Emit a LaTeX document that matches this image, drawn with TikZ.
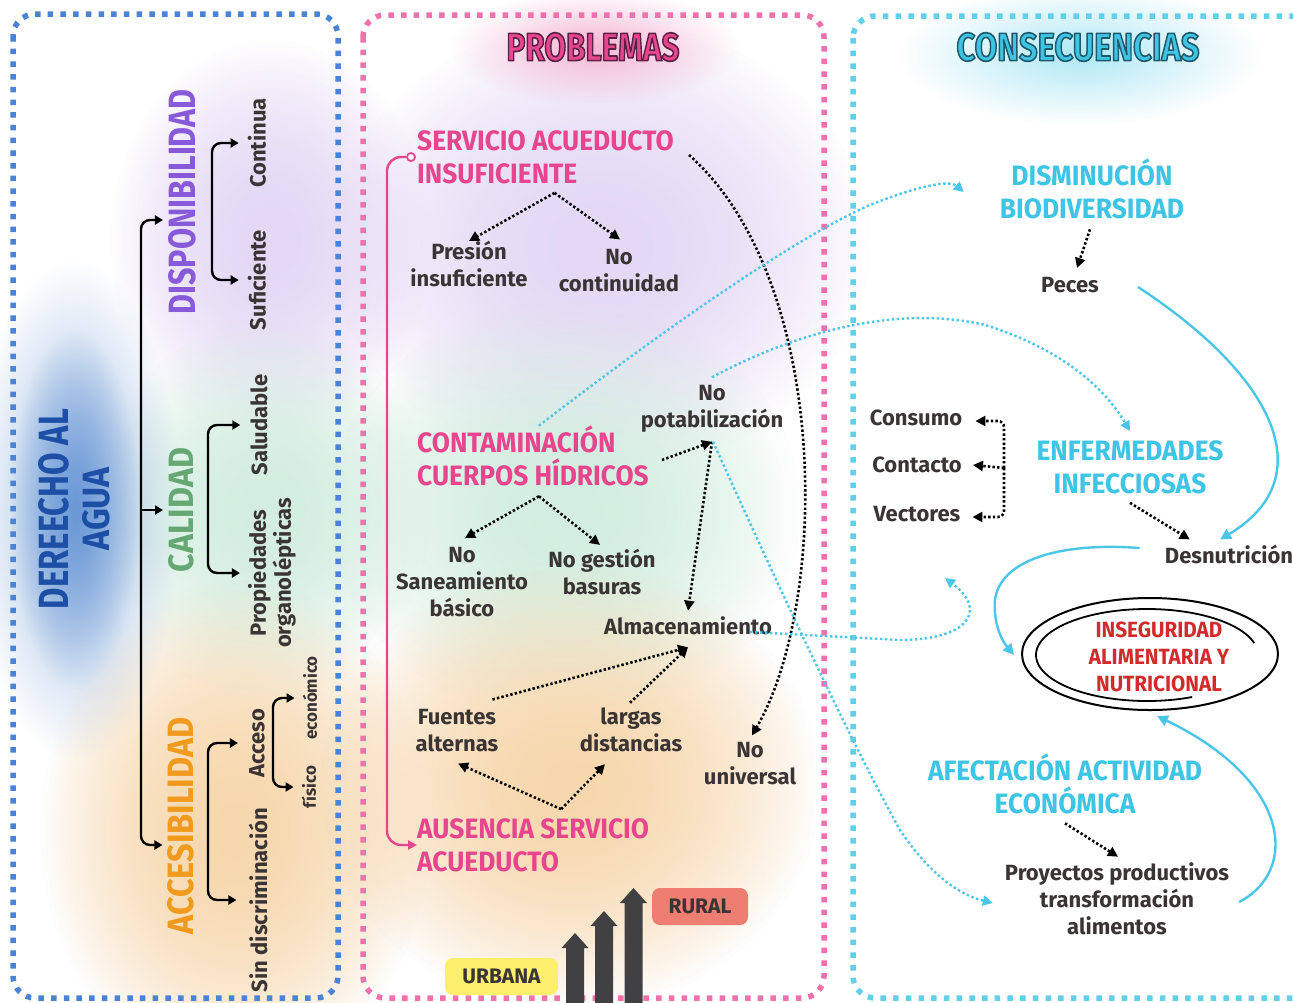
\documentclass[tikz,border=0pt]{standalone}
\usepackage{fontspec}
\setmainfont{Fira Sans}
\newfontfamily\hfont{Fira Sans}[FakeStretch=0.94]
\usepackage{graphicx}
\usetikzlibrary{arrows.meta,fadings,shapes.geometric}
\definecolor{txt}{HTML}{3A3434}
\definecolor{pinkH}{HTML}{E8458F}
\definecolor{pinkB}{HTML}{EF72AC}
\definecolor{pinkG}{HTML}{F7B6D5}
\definecolor{cyanH}{HTML}{3EC4E4}
\definecolor{cyanB}{HTML}{62D0E9}
\definecolor{cyanL}{HTML}{4CC6E7}
\definecolor{cyanG}{HTML}{B0E8F5}
\definecolor{blueB}{HTML}{4A82D4}
\definecolor{blueT}{HTML}{1D4FA6}
\definecolor{blueG}{HTML}{6A98D6}
\definecolor{purp}{HTML}{8859D9}
\definecolor{greenT}{HTML}{66A873}
\definecolor{orangeT}{HTML}{F09A1E}
\definecolor{redT}{HTML}{D22B2B}
\definecolor{arrg}{HTML}{414143}
\definecolor{urb}{HTML}{FCEF6C}
\definecolor{rur}{HTML}{EE7E72}
\definecolor{lav}{HTML}{E4D8F5}
\definecolor{mint}{HTML}{D3EEE0}
\definecolor{peach}{HTML}{F7D8AE}
\tikzfading[name=softblob, inner color=transparent!0, outer color=transparent!100]
\newcommand\fitb[3]{\resizebox{#1pt}{#2pt}{#3}}
% outlined heading: stroke colour given as rgb triple, text render mode 2 (fill + stroke)
\newcommand\outlined[2]{\special{pdf:literal direct 2 Tr 1.7 w 1 j #1 RG}#2\special{pdf:literal direct 0 Tr}}
\tikzset{
  body/.style={font=\fontsize{22}{27}\selectfont\bfseries, text=txt, align=center, inner sep=0pt},
  smalltxt/.style={font=\fontsize{17}{20}\selectfont\bfseries, text=txt, align=center, inner sep=0pt},
  headp/.style={font=\hfont\fontsize{28}{33}\selectfont\bfseries, text=pinkH, align=left, inner sep=0pt, anchor=west},
  headc/.style={font=\hfont\fontsize{28}{33}\selectfont\bfseries, text=cyanH, align=center, inner sep=0pt},
  bigtitle/.style={font=\hfont\fontsize{40.6}{44}\selectfont\bfseries, inner sep=0pt},
  vtitle/.style={inner sep=0pt, rotate=90},
  panel/.style={line width=5.5pt, dash pattern=on 5.5pt off 7.2pt, rounded corners=22pt},
  dotarr/.style={draw=black, line width=2.6pt, dash pattern=on 2.4pt off 2.2pt, -{Triangle[length=10pt,width=10pt]}},
  cydot/.style={draw=cyanL, line width=2.4pt, dash pattern=on 2.4pt off 2.6pt, -{Triangle[length=10pt,width=10pt]}},
  cyline/.style={draw=cyanL, line width=2.4pt, -{Triangle[length=11pt,width=11pt]}},
  brk/.style={draw=black, line width=2.4pt, rounded corners=9pt, -{Triangle[length=8pt,width=9pt]}},
  brktwo/.style={draw=black, line width=2.4pt, rounded corners=9pt, {Triangle[length=8pt,width=9pt]}-{Triangle[length=8pt,width=9pt]}},
  blob/.style={path fading=softblob},
}
\begin{document}
\begin{tikzpicture}[x=1pt,y=-1pt]
\useasboundingbox (0,0) rectangle (1293,1002);
\clip (0,0) rectangle (1293,1002);
\fill[white] (0,0) rectangle (1293,1002);
% soft background tints
\foreach \k in {1,2}{
\fill[lav, blob] (110,40) rectangle (430,440);
\fill[mint, blob] (100,320) rectangle (430,700);
\fill[peach, blob] (40,580) rectangle (430,1080);
\fill[lav, blob] (330,20) rectangle (870,470);
\fill[mint, blob] (330,300) rectangle (800,720);
\fill[peach, blob] (320,560) rectangle (820,1010);
}
\fill[blueG!70, blob] (-30,260) rectangle (180,760);
\fill[blueG, blob] (10,330) rectangle (140,690);
\fill[pinkG, blob] (450,-10) rectangle (740,105);
\fill[cyanG, blob] (900,-15) rectangle (1260,125);
% panels
\draw[panel, blueB] (13,14) rectangle (338,998);
\draw[panel, pinkB] (363,15) rectangle (824,998);
\draw[panel, cyanB] (853,16) rectangle (1330,998);

% ---------- left panel ----------
\node[vtitle, text=blueT, align=center] (der) at (74,509) {\fitb{200}{30}{\hfont\bfseries DEREECHO AL}\\[12pt]\fitb{83}{27}{\hfont\bfseries AGUA}};
\node[vtitle, text=purp] (disp) at (182,202) {\fitb{225}{27}{\hfont\bfseries DISPONIBILIDAD}};
\node[vtitle, text=greenT] (cal) at (181,510) {\fitb{124}{25}{\hfont\bfseries CALIDAD}};
\node[vtitle, text=orangeT] (acc) at (181,826) {\fitb{217}{26}{\hfont\bfseries ACCESIBILIDAD}};
\node[body, rotate=90] (contin) at (257,143) {Continua};
\node[body, rotate=90] (sufi) at (257,280) {Suficiente};
\node[body, rotate=90] (salu) at (259,425) {Saludable};
\node[body, rotate=90, font=\fontsize{22}{25}\selectfont\bfseries] (prop) at (272,573) {Propiedades\\organolépticas};
\node[body, rotate=90] (acce) at (257,743) {Acceso};
\node[body, rotate=90] (sind) at (258,900) {Sin discriminación};
\node[smalltxt, rotate=90] (econ) at (310,698) {económico};
\node[smalltxt, rotate=90] (fis) at (309,787) {físico};

\draw[brktwo] ([shift={(-5,18)}]disp.north) -| (141,532) |- ([shift={(-5,19)}]acc.north);
\draw[brk] (141,510) -- ([xshift=-5pt]cal.north);
\draw[brktwo] ([xshift=-9pt]contin.north) -| (212,200) |- ([xshift=-9pt]sufi.north);
\draw[brktwo] ([xshift=-10pt]salu.north) -| (208,500) |- ([xshift=-8pt]prop.north);
\draw[brktwo] ([xshift=-11pt]acce.north) -| (208,820) |- ([xshift=-12pt]sind.north);
\draw[brktwo] ([xshift=-8pt]econ.north) -| (273,740) |- ([xshift=-8pt]fis.north);

% ---------- center panel ----------
\node[bigtitle, text=pinkH] (probs) at (593,47) {\outlined{0.357 0.129 0.267}{\fitb{173}{28}{PROBLEMAS}}};

\node[headp] (serv) at (417,157) {SERVICIO ACUEDUCTO\\INSUFICIENTE};
\node[circle, draw=pinkH, fill=white, line width=1.8pt, minimum size=8pt, inner sep=0pt] (scirc) at (411,157) {};
\node[body] (pres) at (469,264) {Presión\\insuficiente};
\node[body] (nocont) at (619,271) {No\\continuidad};
\node[headp] (conta) at (417,456) {CONTAMINACIÓN\\CUERPOS HÍDRICOS};
\node[body] (nopot) at (712,409) {No\\potabilización};
\node[body] (nosan) at (462,582) {No\\Saneamiento\\básico};
\node[body] (nogest) at (602,572) {No gestión\\basuras};
\node[body] (almac) at (688,626) {Almacenamiento};
\node[body] (fuen) at (457,731) {Fuentes\\alternas};
\node[body] (larg) at (631,730) {largas\\distancias};
\node[body] (nouni) at (750,764) {No\\universal};
\node[headp] (ausen) at (417,845) {AUSENCIA SERVICIO\\ACUEDUCTO};

\foreach \xc/\tp in {575/933, 604/911, 633.5/888}
  \fill[arrg] (\xc-9,1010) -- (\xc-9,\tp+15) -- (\xc-13.5,\tp+15) -- (\xc,\tp) -- (\xc+13.5,\tp+15) -- (\xc+9,\tp+15) -- (\xc+9,1010) -- cycle;
\node[fill=urb, rounded corners=8pt, minimum width=113pt, minimum height=37pt, inner sep=0pt, font=\fontsize{21}{24}\selectfont\bfseries, text=txt] (urb) at (501.5,976.5) {URBANA};
\node[fill=rur, rounded corners=8pt, minimum width=96pt, minimum height=37pt, inner sep=0pt, font=\fontsize{21}{24}\selectfont\bfseries, text=txt] (rur) at (700,906.5) {RURAL};

% ---------- right panel ----------
\node[bigtitle, text=cyanH] (conse) at (1078,47) {\outlined{0.122 0.353 0.420}{\fitb{243}{28}{CONSECUENCIAS}}};

\node[headc] (dism) at (1092,189) {DISMINUCIÓN\\BIODIVERSIDAD};
\node[body] (peces) at (1070,285) {Peces};
\node[body] (cons) at (916,418) {Consumo};
\node[body] (conto) at (917,465) {Contacto};
\node[body] (vect) at (917,514) {Vectores};
\node[headc] (enf) at (1130,467) {ENFERMEDADES\\INFECCIOSAS};
\node[body] (desn) at (1229,554) {Desnutrición};
\node[font=\hfont\fontsize{22}{27}\selectfont\bfseries, text=redT, align=center, inner sep=0pt] (inseg) at (1159,657) {INSEGURIDAD\\ALIMENTARIA Y\\NUTRICIONAL};
\node[draw=black, line width=2pt, ellipse, minimum width=256pt, minimum height=112pt, inner sep=0pt] (ell) at (1150,654) {};
\draw[black, line width=1.8pt] plot[domain=-294:-15, samples=90, smooth] ({1147+111*cos(\x)}, {655+46*sin(\x)});
\node[headc] (afec) at (1065,784) {AFECTACIÓN ACTIVIDAD\\ECONÓMICA};
\node[body] (proy) at (1117,899) {Proyectos productivos\\transformación\\alimentos};

% ---------- connectors ----------
\draw[dotarr] ([shift={(9,9)}]serv.south) -- (pres.north);
\draw[dotarr] ([shift={(9,9)}]serv.south) -- ([shift={(1,-10)}]nocont.north);
\draw[dotarr] ([shift={(6,10)}]conta.south) -- ([shift={(3,-9)}]nosan.north);
\draw[dotarr] ([shift={(6,10)}]conta.south) -- ([shift={(-2,-4)}]nogest.north);
\draw[dotarr] ([shift={(13,4)}]conta.east) -- ([shift={(0,9)}]nopot.south);
\draw[dotarr] ([shift={(0,9)}]nopot.south) -- ([shift={(0,-6)}]almac.north);
\draw[dotarr] ([shift={(-6,-10)}]fuen.north east) -- ([shift={(0,12)}]almac.south);
\draw[dotarr] ([shift={(-1,-5)}]larg.north) -- ([shift={(0,12)}]almac.south);
\draw[dotarr] ([shift={(28,-9)}]ausen.north) -- ([shift={(1,11)}]fuen.south);
\draw[dotarr] ([shift={(28,-9)}]ausen.north) -- ([shift={(-26,12)}]larg.south);
\draw[dotarr] ([shift={(15,-2)}]serv.east) .. controls (830,280) and (830,600) .. ([shift={(2,-7)}]nouni.north);
\draw[pinkH, line width=2.4pt, rounded corners=14pt, -{Triangle[length=9pt,width=9pt]}] (scirc.west) -- (387,157) -- (387,845) -- (ausen.west);

\draw[dotarr] ([shift={(-2,10)}]dism.south) -- ([shift={(7,-9)}]peces.north);
\draw[cyline] ([shift={(39,2)}]peces.east) .. controls (1280,380) and (1320,480) .. ([shift={(-9,-5)}]desn.north);
\draw[dotarr] ([shift={(0,9)}]enf.south) -- ([shift={(25,-5)}]desn.north west);
\draw[cyline] ([shift={(-25,-6)}]desn.west) .. controls (1060,542) and (1000,560) .. (995,600) .. controls (993,625) and (1003,642) .. ([shift={(-7,1)}]ell.west);
\draw[cyline] ([shift={(10,3)}]proy.east) .. controls (1300,870) and (1290,780) .. ([shift={(7,5)}]ell.south);
\draw[dotarr] ([shift={(0,9)}]afec.south) -- ([shift={(1,-6)}]proy.north);
\coordinate (brc) at (1004,468);
\draw[dotarr, rounded corners=6pt] (brc) |- ([shift={(13,3)}]cons.east);
\draw[dotarr] (brc) -- ([xshift=11pt]conto.east);
\draw[dotarr, rounded corners=6pt] (brc) |- ([shift={(12,3)}]vect.east);

\draw[cydot] ([xshift=6pt]conta.north) .. controls (650,340) and (790,240) .. (870,205) .. controls (920,185) and (950,180) .. ([shift={(-36,3)}]dism.west);
\draw[cydot] ([yshift=8pt]nopot.north) .. controls (800,330) and (900,305) .. (985,325) .. controls (1050,345) and (1100,380) .. ([shift={(0,-9)}]enf.north);
\coordinate (c3end) at (945,578);
\draw[cydot] ([shift={(-22,6)}]almac.east) -- (900,640) .. controls (965,640) and (990,612) .. (c3end);
\draw[cydot] ([shift={(1,9)}]nopot.south) .. controls (780,590) and (850,740) .. (900,830) .. controls (930,875) and (960,895) .. ([shift={(-12,4)}]proy.west);
\end{tikzpicture}
\end{document}
